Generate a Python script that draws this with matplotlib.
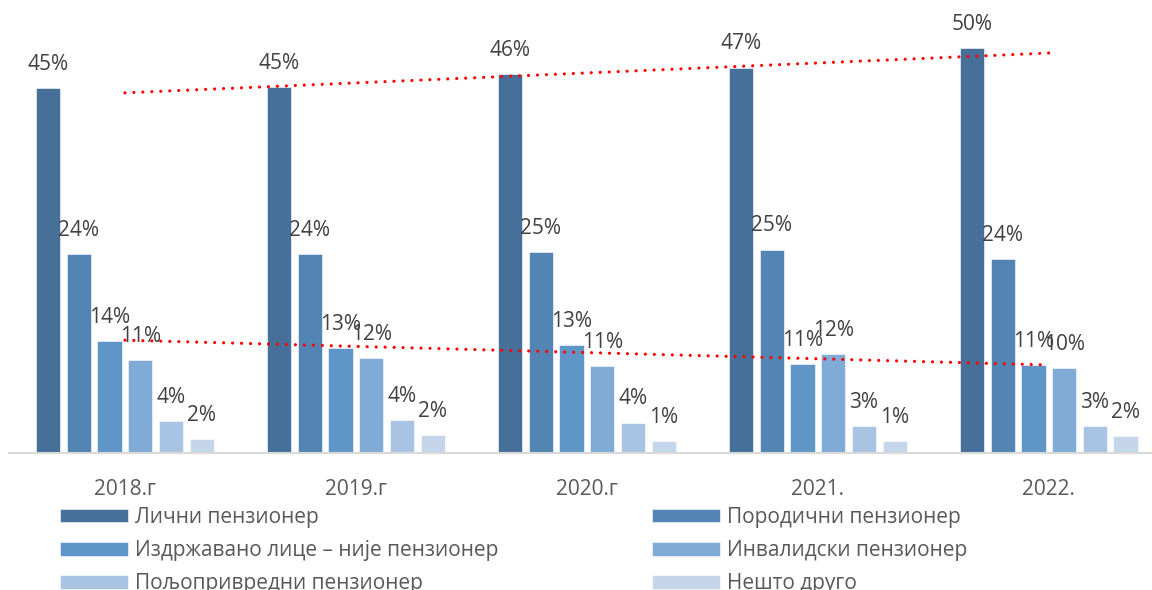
import numpy as np
import matplotlib
matplotlib.use('Agg')
import matplotlib.pyplot as plt

plt.rcParams['font.family'] = ['Open Sans', 'DejaVu Sans']

years = ['2018.г', '2019.г', '2020.г', '2021.', '2022.']
series = ['Лични пензионер', 'Породични пензионер',
          'Издржавано лице – није пензионер', 'Инвалидски пензионер',
          'Пољопривредни пензионер', 'Нешто друго']
licni = [44.7, 44.8, 46.4, 47.2, 49.6]
porodicni = [24.4, 24.4, 24.6, 24.9, 23.7]
izdrzavano = [13.65, 12.8, 13.2, 10.9, 10.8]
invalidski = [11.4, 11.6, 10.6, 12.1, 10.4]
poljoprivredni = [3.9, 4.0, 3.7, 3.3, 3.3]
drugo = [1.64, 2.2, 1.4, 1.4, 2.0]
values = [licni, porodicni, izdrzavano, invalidski, poljoprivredni, drugo]
colors = ['#46709A', '#5284B4', '#5F95C7', '#80ABD6', '#A9C4E2', '#C5D5EA']

W, H = 1152, 590
fig = plt.figure(figsize=(W / 100, H / 100), dpi=100)
base = 452.7
ax = fig.add_axes([9.4 / W, (H - base) / H, (W - 9.4) / W, base / H])

x = np.arange(len(years))
step = 30.7 / 231
bw = 24.3 / 231
handles = []
for i, (vals, c) in enumerate(zip(values, colors)):
    b = ax.bar(x + (i - 2.5) * step, vals, width=bw, color=c,
               edgecolor='white', linewidth=0.4, label=series[i], zorder=2)
    handles.append(b)
    for xi, v in zip(x + (i - 2.5) * step, vals):
        ax.annotate(f'{round(v):d}%', (xi, v), xytext=(0, 13),
                    textcoords='offset points', ha='center', va='baseline',
                    fontsize=15, color='#404040', zorder=4)

# linear trendlines
for vals in (licni, izdrzavano):
    k, n = np.polyfit(x, vals, 1)
    ax.plot(x, k * x + n, color='#FF0000', lw=2.3,
            linestyle=(0, (0.01, 2.8)), dash_capstyle='round', zorder=3)

ax.set_xlim(-0.5, -0.5 + (W - 9.4) / 231)
ax.set_ylim(0, base / 8.16)
ax.set_xticks(x)
ax.set_xticklabels(years, fontsize=15, color='#595959')
ax.tick_params(axis='x', length=0, pad=19)
ax.set_yticks([])
for s in ['top', 'right', 'left']:
    ax.spines[s].set_visible(False)
ax.spines['bottom'].set_color('#D9D9D9')
ax.spines['bottom'].set_linewidth(1.5)

for col, x0 in ((0, 60), (1, 652)):
    hs = [handles[j] for j in (col, col + 2, col + 4)]
    ls = [series[j] for j in (col, col + 2, col + 4)]
    fig.legend(hs, ls, loc='upper left', bbox_to_anchor=(x0 / W, 1 - 507 / H),
               frameon=False, fontsize=15, labelcolor='#595959',
               handlelength=3.25, handleheight=0.62, handletextpad=0.35,
               labelspacing=0.58, borderpad=0, borderaxespad=0)

fig.savefig('out.png', dpi=100)
